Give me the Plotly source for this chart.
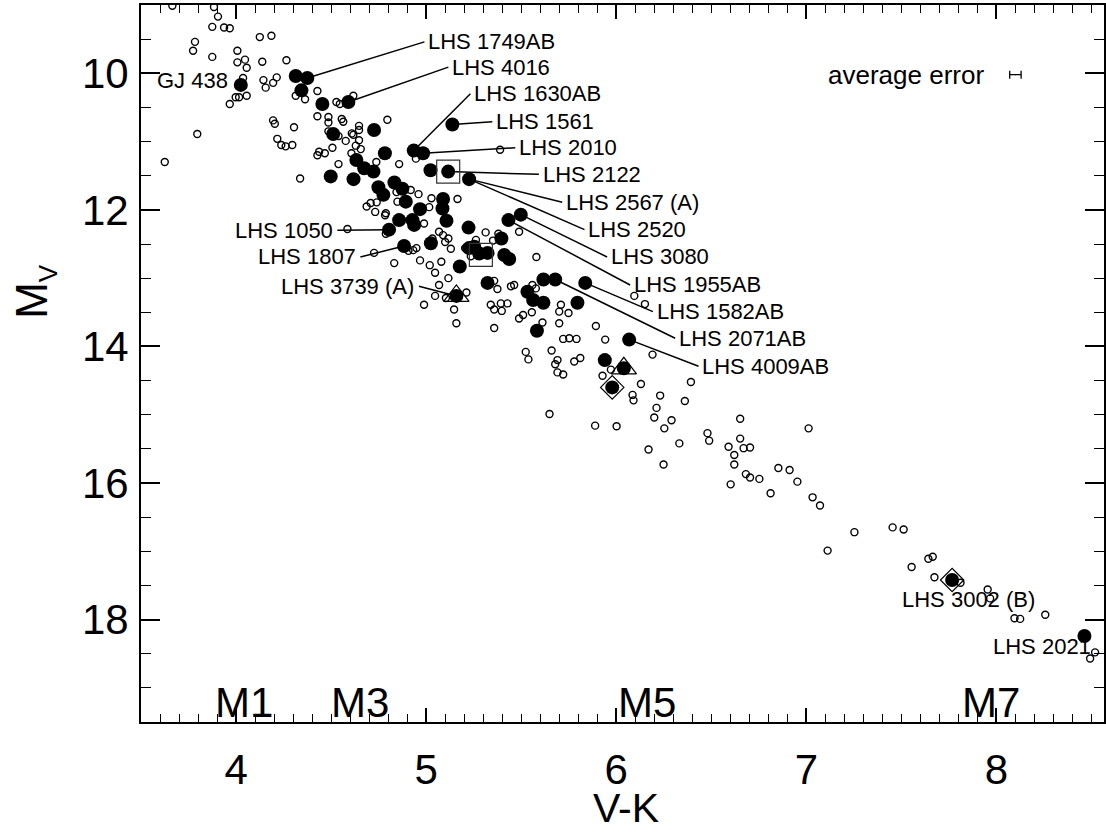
import plotly.graph_objects as go

# ---------------- data ----------------
open_vk = [3.665, 3.884, 3.905, 3.875, 3.937, 3.967, 4.125, 4.186, 3.784, 3.774, 4.007, 3.875,
           4.007, 4.047, 4.056, 4.138, 4.265, 4.037, 4.144, 4.156, 4.195, 4.214, 3.998, 4.016,
           4.056, 3.967, 4.314, 4.363, 4.428, 3.796, 3.625, 4.195, 4.204, 4.305, 4.217, 4.238,
           4.261, 4.296, 4.428, 4.486, 4.486, 4.486, 4.528, 4.546, 4.617, 4.556, 4.564, 4.539,
           4.507, 4.437, 4.428, 4.467, 4.539, 4.577, 4.609, 4.647, 4.647, 4.617, 4.647, 4.630,
           4.656, 4.607, 4.796, 4.337, 4.738, 4.858, 4.946, 4.960, 5.028, 5.165, 4.844, 4.849,
           4.687, 4.708, 4.740, 4.732, 4.788, 5.016, 4.750,
           4.784, 4.788, 4.989, 4.586, 5.068, 5.089, 5.117, 5.100, 5.130, 4.726, 4.907, 4.932,
           4.949, 4.832, 4.968, 5.019, 5.080, 5.047, 5.117, 5.068, 5.047, 4.989, 5.147, 5.159,
           5.104,
           4.919, 5.313, 5.380, 5.033, 5.205, 5.235, 5.262, 5.352, 5.580, 5.212, 5.375, 5.446,
           5.463, 5.358, 5.340, 5.358, 5.393, 5.398, 5.428, 5.358, 5.489, 5.510, 5.556, 5.559,
           5.577, 5.612, 5.700, 5.709, 5.700, 5.749, 5.893, 5.721, 5.753, 5.791, 5.942, 5.489,
           6.095, 6.151, 5.660, 5.524, 5.389,
           5.538, 5.691, 5.679, 5.811, 5.779, 5.691, 5.721, 6.191, 5.972, 5.928, 6.130, 6.086,
           6.091, 6.231, 6.212, 6.200, 6.291, 6.253, 6.332, 6.170, 6.249, 6.393, 6.361, 6.480,
           6.489, 5.649, 5.889, 6.002,
           6.652, 6.652, 6.591, 6.621, 6.670, 6.704, 6.621, 6.602, 6.682, 6.704, 6.753, 6.812,
           6.853, 6.912, 6.953, 7.012, 7.033, 7.072, 7.112, 7.253, 7.454,
           7.512, 7.642, 7.665, 7.554, 7.674, 7.811, 7.954, 7.967, 8.095, 8.125, 8.257, 8.493,
           8.519]
open_mv = [9.01, 9.03, 9.17, 9.32, 9.33, 9.34, 9.47, 9.45, 9.54, 9.67, 9.67, 9.76,
           9.84, 9.80, 9.92, 9.83, 9.81, 10.07, 10.10, 10.21, 10.14, 10.06, 10.35, 10.35,
           10.33, 10.45, 10.33, 10.38, 10.26, 10.89, 11.30, 10.69, 10.74, 10.79, 10.96, 11.05,
           11.07, 11.05, 10.63, 10.64, 10.72, 10.85, 10.42, 10.45, 10.33, 10.67, 10.71, 10.92,
           11.09, 11.15, 11.20, 11.17, 11.33, 10.99, 10.88, 10.77, 10.83, 10.90, 10.98, 11.06,
           11.11, 11.17, 10.68, 11.54, 11.30, 11.33, 11.25, 11.77, 11.83, 11.84, 11.74, 11.88,
           11.95, 11.90, 11.89, 12.03, 12.05, 11.96, 11.71,
           12.08, 12.35, 12.20, 12.28, 12.32, 12.37, 12.42, 12.47, 12.57, 12.63, 12.60, 12.59,
           12.56, 12.78, 12.74, 12.81, 12.76, 12.92, 13.00, 13.10, 13.26, 13.39, 13.46, 13.66,
           13.29,
           11.71, 12.33, 12.35, 12.42, 12.56, 12.68, 12.44, 12.45, 12.69, 13.21, 13.16, 13.12,
           13.10, 13.04, 13.39, 13.46, 13.37, 13.48, 13.37, 13.73, 13.59, 13.54, 13.50, 13.10,
           13.15, 13.65, 13.66, 13.39, 13.49, 13.51, 13.70, 13.89, 13.88, 13.89, 13.90, 12.32,
           13.26, 13.38, 14.06, 14.08, 11.12,
           14.19, 14.20, 14.26, 14.17, 14.22, 14.38, 14.41, 14.12, 14.34, 14.43, 14.55, 14.71,
           14.79, 14.72, 14.90, 15.04, 15.08, 15.20, 15.42, 15.51, 15.73, 14.52, 14.80, 15.27,
           15.38, 14.99, 15.16, 15.17,
           15.06, 15.35, 15.47, 15.59, 15.49, 15.48, 15.73, 16.02, 15.87, 15.92, 15.94, 16.15,
           15.78, 15.81, 15.98, 15.20, 16.21, 16.33, 16.99, 16.72, 16.65,
           16.68, 17.11, 17.08, 17.23, 17.38, 17.46, 17.56, 17.69, 17.98, 17.99, 17.93, 18.57,
           18.48]

filled_vk = [4.314, 4.375, 4.344, 4.025, 4.454, 4.591, 4.726, 5.138, 4.511, 4.935, 4.984, 4.783,
             4.633, 4.674, 4.723, 4.498, 4.618, 5.023, 5.116, 4.833, 4.749, 4.775, 4.875, 4.893,
             4.968, 5.089, 5.086, 5.226, 5.498, 5.433, 4.858, 4.928, 4.937, 5.107, 4.805, 5.223,
             4.884, 5.025, 5.396, 5.226, 5.253, 5.279, 5.323, 5.411, 5.437, 5.177, 5.159, 5.323,
             5.617, 5.679, 5.837, 5.533, 5.563, 5.617, 5.796, 5.583, 6.068, 5.940, 6.040, 5.979,
             7.767, 8.463]
filled_mv = [10.04, 10.07, 10.25, 10.17, 10.45, 10.42, 10.83, 10.75, 10.89, 11.13, 11.17, 11.17,
             11.27, 11.39, 11.44, 11.51, 11.55, 11.42, 11.44, 11.60, 11.67, 11.78, 11.69, 11.88,
             11.99, 11.84, 11.98, 11.55, 12.07, 12.15, 12.15, 12.15, 12.22, 12.16, 12.29, 12.26,
             12.53, 12.49, 12.42, 12.56, 12.54, 12.64, 12.63, 12.66, 12.72, 12.83, 13.26, 13.07,
             13.02, 13.02, 13.07, 13.20, 13.32, 13.36, 13.36, 13.77, 13.90, 14.20, 14.32, 14.60,
             17.42, 18.24]

square_vk = [5.116, 5.288]
square_mv = [11.44, 12.66]
triangle_vk = [5.159, 6.040]
triangle_mv = [13.26, 14.32]
diamond_vk = [5.979, 7.767]
diamond_mv = [14.60, 17.42]

# labels: name, index of the star it points to (None = no leader line), text anchor
label_names = ["LHS 1749AB", "LHS 4016", "LHS 1630AB", "LHS 1561", "LHS 2010", "LHS 2122",
               "LHS 2567 (A)", "LHS 2520", "LHS 3080", "LHS 1955AB", "LHS 1582AB",
               "LHS 2071AB", "LHS 4009AB", "LHS 1050", "LHS 1807", "LHS 3739 (A)",
               "GJ 438", "LHS 3002 (B)", "LHS 2021"]
label_star = [1, 5, 9, 7, 10, 18, 27, 27, 28, 29, 50, 49, 56, 34, 36, 46, None, None, None]
label_vk = [5.001, 5.127, 5.243, 5.358, 5.479, 5.603, 5.726, 5.843, 5.962, 6.083, 6.203,
            6.320, 6.443, 4.518, 4.639, 4.947, 3.967, 7.852, 8.508]
label_mv = [9.54, 9.91, 10.30, 10.71, 11.09, 11.48, 11.89, 12.29, 12.69, 13.10, 13.49,
            13.88, 14.29, 12.30, 12.69, 13.12, 10.10, 17.71, 18.40]
label_side = ["left"] * 13 + ["right"] * 4 + ["center", "right"]

spec_names = ["M1", "M3", "M5", "M7"]
spec_vk = [4.04, 4.65, 6.16, 7.97]
spec_mv = 19.22

err_vk, err_mv, err_size = 8.10, 10.02, 0.03

FONT = "Liberation Sans, Arial, Helvetica, sans-serif"

fig = go.Figure()

# leader lines
lx, ly = [], []
for i, s in enumerate(label_star):
    if s is None:
        continue
    if label_side[i] == "left":
        ex = label_vk[i] - 0.01
    else:
        ex = label_vk[i] + 0.015
    lx += [filled_vk[s], ex, None]
    ly += [filled_mv[s], label_mv[i], None]
fig.add_trace(go.Scatter(x=lx, y=ly, mode="lines", line=dict(color="black", width=1.5),
                         hoverinfo="skip", showlegend=False))

fig.add_trace(go.Scatter(x=open_vk, y=open_mv, mode="markers", showlegend=False,
                         marker=dict(symbol="circle-open", size=7, color="black",
                                     line=dict(width=1.4, color="black"))))
fig.add_trace(go.Scatter(x=filled_vk, y=filled_mv, mode="markers", showlegend=False,
                         marker=dict(symbol="circle", size=14, color="black",
                                     line=dict(width=0))))
fig.add_trace(go.Scatter(x=square_vk, y=square_mv, mode="markers", showlegend=False,
                         marker=dict(symbol="square-open", size=23, color="#333",
                                     line=dict(width=1.2, color="#333"))))
fig.add_trace(go.Scatter(x=triangle_vk, y=triangle_mv, mode="markers", showlegend=False,
                         marker=dict(symbol="triangle-up-open", size=22, color="black",
                                     line=dict(width=1.2, color="black"))))
fig.add_trace(go.Scatter(x=diamond_vk, y=diamond_mv, mode="markers", showlegend=False,
                         marker=dict(symbol="diamond-open", size=18, color="black",
                                     line=dict(width=1.2, color="black"))))
fig.add_trace(go.Scatter(x=[err_vk], y=[err_mv], mode="markers", showlegend=False,
                         marker=dict(size=1, color="black"),
                         error_x=dict(type="data", array=[err_size], color="black",
                                      thickness=1.3, width=4)))

for i, name in enumerate(label_names):
    fig.add_annotation(x=label_vk[i], y=label_mv[i], text=name, showarrow=False,
                       xanchor=label_side[i], yanchor="middle",
                       font=dict(family=FONT, size=22, color="black"))

for name, xv in zip(spec_names, spec_vk):
    fig.add_annotation(x=xv, y=spec_mv, text=name, showarrow=False, xanchor="center",
                       yanchor="middle", font=dict(family=FONT, size=42, color="black"))

fig.add_annotation(x=7.946, y=err_mv, text="average error", showarrow=False,
                   xanchor="right", yanchor="middle",
                   font=dict(family=FONT, size=26, color="black"))

# axis titles
fig.add_annotation(xref="paper", yref="paper", x=0.5036, y=-0.12, text="V-K",
                   showarrow=False, xanchor="center", yanchor="middle",
                   font=dict(family=FONT, size=41, color="black"))
fig.add_annotation(xref="paper", yref="paper", x=-0.11, y=0.60,
                   text="M<sub><span style='font-size:26px'>V</span></sub>",
                   showarrow=False, xanchor="center", yanchor="middle", textangle=-90,
                   font=dict(family=FONT, size=44, color="black"))

fig.update_layout(
    width=1106, height=835,
    margin=dict(l=141, r=0, t=5, b=113),
    paper_bgcolor="white", plot_bgcolor="white",
    font=dict(family=FONT, color="black"),
    showlegend=False,
    xaxis=dict(range=[3.5, 8.566], showline=True, linewidth=2, linecolor="black",
               mirror="ticks", ticks="inside", ticklen=14, tickwidth=1.5, tickcolor="black",
               tick0=0, dtick=1, showgrid=False, zeroline=False,
               tickfont=dict(family=FONT, size=42, color="black"), ticklabelstandoff=10,
               minor=dict(ticks="inside", tick0=0, dtick=0.1, ticklen=8, tickwidth=1.2,
                          tickcolor="black", showgrid=False)),
    yaxis=dict(range=[19.5, 9.0], showline=True, linewidth=2, linecolor="black",
               mirror="ticks", ticks="inside", ticklen=19, tickwidth=1.5, tickcolor="black",
               tick0=0, dtick=2, showgrid=False, zeroline=False,
               tickfont=dict(family=FONT, size=42, color="black"), ticklabelstandoff=2,
               minor=dict(ticks="inside", tick0=0, dtick=0.5, ticklen=10, tickwidth=1.2,
                          tickcolor="black", showgrid=False)),
)

fig.write_html("out.html", config={"displayModeBar": False},
               post_script="document.body.style.margin='0';")
